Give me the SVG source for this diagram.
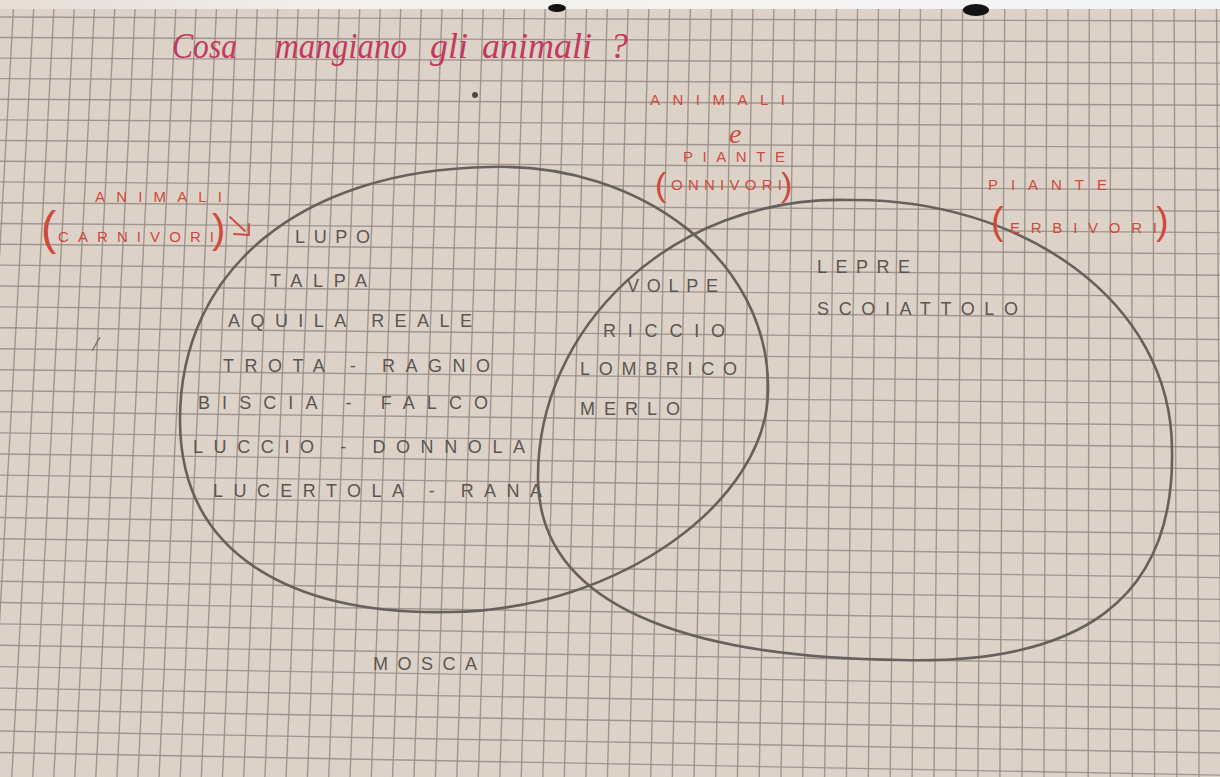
<svg xmlns="http://www.w3.org/2000/svg" width="1220" height="777" viewBox="0 0 1220 777">
<defs>
<linearGradient id="strip" x1="0" y1="0" x2="1" y2="0">
<stop offset="0" stop-color="#e6ddd5"/>
<stop offset="0.3" stop-color="#f3f2ef"/>
<stop offset="1" stop-color="#f4f6f6"/>
</linearGradient>
<style>
.grid path{stroke:#958c84;stroke-width:1.4;fill:none;opacity:0.85}
.set{fill:none;stroke:#66615d;stroke-width:2.6;stroke-linejoin:round}
.pencil{font-family:"Liberation Sans",Arial,sans-serif;fill:#5c5651;font-size:18px}
.red{font-family:"Liberation Sans",Arial,sans-serif;fill:#cf4a3d;font-size:15px}
.paren{font-family:"Liberation Sans",Arial,sans-serif;fill:#cf4a3d}
.title{font-family:"Liberation Serif","DejaVu Serif",serif;font-style:italic;fill:#c23a5c;font-size:36px}
.conn{fill:none;stroke:#cf4a3d;stroke-width:1.8;stroke-linecap:round;stroke-linejoin:round}
</style>
</defs>
<rect x="0" y="0" width="1220" height="777" fill="#ddd2c7"/>
<g class="grid">
<path d="M14,0L-30,777M34.2,0L-9.1,777M54.4,0L11.8,777M74.7,0L32.8,777M94.9,0L53.8,777M115.2,0L74.8,777M135.5,0L95.8,777M155.9,0L116.9,777M176.2,0L137.9,777M196.5,0L159,777M216.9,0L180.2,777M237.3,0L201.3,777M257.7,0L222.5,777M278.2,0L243.7,777M298.6,0L264.9,777M319.1,0L286.1,777M339.6,0L307.4,777M360.1,0L328.7,777M380.6,0L350,777M401.1,0L371.3,777M421.7,0L392.6,777M442.3,0L414,777M462.9,0L435.4,777M483.5,0L456.8,777M504.1,0L478.3,777M524.8,0L499.8,777M545.4,0L521.2,777M566.1,0L542.8,777M586.8,0L564.3,777M607.5,0L585.9,777M628.3,0L607.4,777M649,0L629.1,777M669.8,0L650.7,777M690.6,0L672.3,777M711.4,0L694,777M732.3,0L715.7,777M753.1,0L737.4,777M774,0L759.2,777M794.9,0L781,777M815.8,0L802.7,777M836.7,0L824.6,777M857.7,0L846.4,777M878.6,0L868.3,777M899.6,0L890.2,777M920.6,0L912.1,777M941.6,0L934,777M962.7,0L956,777M983.7,0L977.9,777M1004.8,0L999.9,777M1025.9,0L1022,777M1047,0L1044,777M1068.1,0L1066.1,777M1089.3,0L1088.2,777M1110.4,0L1110.3,777M1131.6,0L1132.4,777M1152.8,0L1154.6,777M1174.1,0L1176.8,777M1195.3,0L1199,777M1216.5,0L1221.2,777"/>
<path d="M0,17L1220,21M0,37.5L1220,42M0,58.1L1220,63.1M0,78.6L1220,84.1M0,99.2L1220,105.2M0,119.9L1220,126.4M0,140.5L1220,147.6M0,161.2L1220,168.8M0,181.9L1220,190M0,202.7L1220,211.3M0,223.5L1220,232.6M0,244.3L1220,253.9M0,265.1L1220,275.2M0,286L1220,296.6M0,306.9L1220,318.1M0,327.8L1220,339.5M0,348.8L1220,361M0,369.8L1220,382.5M0,390.8L1220,404.1M0,411.8L1220,425.6M0,432.9L1220,447.2M0,454L1220,468.9M0,475.1L1220,490.6M0,496.3L1220,512.3M0,517.5L1220,534M0,538.7L1220,555.8M0,559.9L1220,577.6M0,581.2L1220,599.4M0,602.5L1220,621.2M0,623.9L1220,643.1M0,645.2L1220,665M0,666.6L1220,687M0,688.1L1220,709M0,709.5L1220,731M0,731L1220,753M0,752.5L1220,775.1"/>
</g>
<rect x="0" y="0" width="1220" height="9" fill="url(#strip)"/>
<ellipse cx="557" cy="8" rx="9" ry="4" fill="#151312"/>
<ellipse cx="976" cy="10" rx="13" ry="6" fill="#151312"/>
<g id="title">
<text class="title" x="172" y="58" font-size="33" textLength="65" lengthAdjust="spacingAndGlyphs">Cosa</text>
<text class="title" x="275" y="58" font-size="33" textLength="132" lengthAdjust="spacingAndGlyphs">mangiano</text>
<text class="title" x="430" y="58" font-size="38" textLength="38" lengthAdjust="spacingAndGlyphs">gli</text>
<text class="title" x="482" y="58" font-size="36" textLength="110" lengthAdjust="spacingAndGlyphs">animali</text>
<text class="title" x="610" y="58" font-size="38">?</text>
</g>
<circle cx="475" cy="95" r="3" fill="#4e4a47"/>
<path d="M92,351L100,337" stroke="#7a746f" stroke-width="1.5" fill="none"/>
<g id="set-carnivori">
<path class="set" d="M490,167C640,162 770,260 768,390C768,500 620,610 450,612C300,615 180,560 180,420C180,270 300,170 490,167Z"/>
<text class="red" x="95" y="202" textLength="127" lengthAdjust="spacing" font-size="14">ANIMALI</text>
<text class="paren" x="41" y="244" font-size="46">(</text>
<text class="red" x="58" y="242" textLength="156" lengthAdjust="spacing" font-size="16">CARNIVORI</text>
<text class="paren" x="212" y="243" font-size="40">)</text>
</g>
<g id="set-erbivori">
<path class="set" d="M850,200C1020,198 1172,300 1172,450C1175,600 1080,665 900,660C720,658 540,620 538,480C536,330 670,195 850,200Z"/>
<text class="red" x="988" y="190" textLength="119" lengthAdjust="spacing" font-size="16">PIANTE</text>
<text class="paren" x="991" y="234" font-size="38">(</text>
<text class="red" x="1010" y="233" textLength="147" lengthAdjust="spacing" font-size="14">ERBIVORI</text>
<text class="paren" x="1156" y="234" font-size="38">)</text>
</g>
<g id="label-onnivori">
<text class="red" x="650" y="105" textLength="135" lengthAdjust="spacing" font-size="14">ANIMALI</text>
<text x="729" y="143" font-family="Liberation Serif, serif" font-style="italic" font-size="28" fill="#cf4a3d">e</text>
<text class="red" x="683" y="162" textLength="102" lengthAdjust="spacing" font-size="15">PIANTE</text>
<text class="paren" x="655" y="196" font-size="34">(</text>
<text class="red" x="671" y="190" textLength="111" lengthAdjust="spacing" font-size="14">ONNIVORI</text>
<text class="paren" x="781" y="196" font-size="34">)</text>
</g>
<g id="items-carnivori">
<text class="pencil" x="295" y="243" textLength="75" lengthAdjust="spacing">LUPO</text>
<text class="pencil" x="270" y="287" textLength="97" lengthAdjust="spacing">TALPA</text>
<text class="pencil" x="228" y="327" textLength="244" lengthAdjust="spacing">AQUILA REALE</text>
<text class="pencil" x="223" y="372" textLength="267" lengthAdjust="spacing">TROTA - RAGNO</text>
<text class="pencil" x="198" y="409" textLength="290" lengthAdjust="spacing">BISCIA - FALCO</text>
<text class="pencil" x="193" y="453" textLength="332" lengthAdjust="spacing">LUCCIO - DONNOLA</text>
<text class="pencil" x="213" y="497" textLength="329" lengthAdjust="spacing">LUCERTOLA - RANA</text>
</g>
<g id="items-onnivori">
<text class="pencil" x="627" y="292" textLength="91" lengthAdjust="spacing" font-size="17">VOLPE</text>
<text class="pencil" x="603" y="337" textLength="122" lengthAdjust="spacing" font-size="22">RICCIO</text>
<text class="pencil" x="580" y="375" textLength="157" lengthAdjust="spacing" font-size="19">LOMBRICO</text>
<text class="pencil" x="580" y="415" textLength="100" lengthAdjust="spacing" font-size="16">MERLO</text>
</g>
<g id="items-erbivori">
<text class="pencil" x="817" y="273" textLength="93" lengthAdjust="spacing">LEPRE</text>
<text class="pencil" x="817" y="315" textLength="201" lengthAdjust="spacing" font-size="17">SCOIATTOLO</text>
</g>
<g id="item-outside">
<text class="pencil" x="373" y="670" textLength="104" lengthAdjust="spacing" font-size="17">MOSCA</text>
</g>
<g id="connectors">
<path class="conn" d="M230,217L245,231"/>
<path class="conn" d="M234,234L249,235L249,224"/>
</g>
</svg>
